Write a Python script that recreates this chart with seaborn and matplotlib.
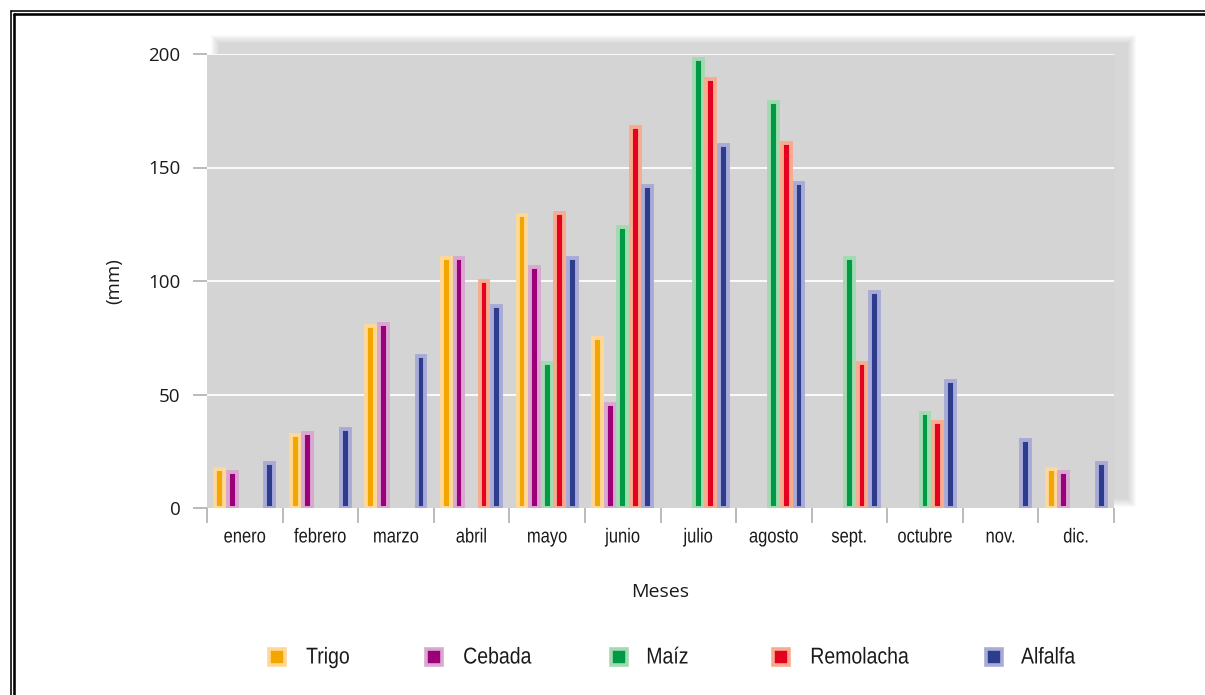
import numpy as np
import pandas as pd
import matplotlib
matplotlib.use("Agg")
import matplotlib.pyplot as plt
from matplotlib.lines import Line2D
from matplotlib.patches import Rectangle
from matplotlib.transforms import Affine2D
from matplotlib import patheffects
import seaborn as sns

# Monthly water needs per crop (mm)
months = ["enero", "febrero", "marzo", "abril", "mayo", "junio",
          "julio", "agosto", "sept.", "octubre", "nov.", "dic."]
crops = ["Trigo", "Cebada", "Maíz", "Remolacha", "Alfalfa"]
nan = np.nan
trigo = [17, 32, 80, 110, 129, 75, nan, nan, nan, nan, nan, 17]
cebada = [16, 33, 81, 110, 106, 46, nan, nan, nan, nan, nan, 16]
maiz = [nan, nan, nan, nan, 64, 124, 198, 179, 110, 42, nan, nan]
remolacha = [nan, nan, nan, 100, 130, 168, 189, 161, 64, 38, nan, nan]
alfalfa = [20, 35, 67, 89, 110, 142, 160, 143, 95, 56, 30, 20]
y_ticks = [0, 50, 100, 150, 200]

face_colors = ["#F4A600", "#9B0079", "#009A44", "#E4001F", "#2E3C8E"]
edge_colors = ["#FFD898", "#D9A8D1", "#A3DAB2", "#F8AB8E", "#A9ABD7"]

series = [trigo, cebada, maiz, remolacha, alfalfa]
rows = []
for crop, vals in zip(crops, series):
    for m, v in zip(months, vals):
        if not np.isnan(v):
            rows.append({"Mes": m, "mm": v, "Cultivo": crop})
df = pd.DataFrame(rows)


class Condensed(patheffects.AbstractPathEffect):
    """Squeeze text horizontally to mimic a condensed typeface."""

    def __init__(self, sx=0.82, anchor="center"):
        super().__init__()
        self.sx = sx
        self.anchor = anchor

    def draw_path(self, renderer, gc, tpath, affine, rgbFace=None):
        bb = tpath.get_extents(affine)
        cx = (bb.x0 + bb.x1) / 2 if self.anchor == "center" else bb.x0
        squeeze = Affine2D().translate(-cx, 0).scale(self.sx, 1).translate(cx, 0)
        renderer.draw_path(gc, tpath, affine + squeeze, rgbFace)


sns.set_style("white", {"axes.facecolor": "#D4D4D4"})
plt.rcParams["font.family"] = ["Open Sans", "DejaVu Sans"]
narrow_family = ["Liberation Sans", "DejaVu Sans"]

W, H = 1205, 695
fig = plt.figure(figsize=(W / 100, H / 100), dpi=100)
fig.patch.set_facecolor("white")

# plot rectangle in pixels
x0, x1, ytop, ybot = 207, 1114, 54, 508
ax = fig.add_axes([x0 / W, 1 - ybot / H, (x1 - x0) / W, (ybot - ytop) / H])

# soft drop shadow behind the plot area (offset up and to the right)
dx, dy = 13, 10
for k in range(9):
    grow = 9 - k
    r = Rectangle(((x0 + dx - grow) / W, (H - ybot + dy - grow) / H),
                  (x1 - x0 + 2 * grow) / W, (ybot - ytop + 2 * grow) / H,
                  transform=fig.transFigure, facecolor="#A0A0A0",
                  edgecolor="none", alpha=0.05, zorder=-2)
    fig.patches.append(r)

sns.barplot(data=df, x="Mes", y="mm", hue="Cultivo", order=months,
            hue_order=crops, palette=face_colors, saturation=1,
            width=0.83, gap=0.3, errorbar=None, ax=ax, legend=False, zorder=3)

for cont, ec in zip(ax.containers, edge_colors):
    for p in cont:
        p.set_edgecolor(ec)
        p.set_linewidth(2.8)

ax.set_xlim(-0.5, len(months) - 0.5)
ax.set_ylim(0, 200)
ax.set_yticks(y_ticks)
ax.grid(False)
for t in y_ticks[1:]:
    ax.axhline(t, color="white", lw=1.3, zorder=1)
for s in ax.spines.values():
    s.set_visible(False)

ax.tick_params(axis="y", length=10, width=1.1, color="#A8A8A8", pad=9,
               labelsize=13.5, labelcolor="#1A1A1A", left=True)
ax.set_xticks(np.arange(len(months)))
ax.set_xticklabels(months, fontfamily=narrow_family, fontsize=14.5, color="#1A1A1A")
for lab in ax.get_xticklabels():
    lab.set_path_effects([Condensed(0.82, "center")])
ax.set_xticks(np.arange(-0.5, len(months)), minor=True)
ax.tick_params(axis="x", which="major", length=0, pad=14, bottom=True)
ax.tick_params(axis="x", which="minor", length=11, width=1.1,
               color="#A8A8A8", bottom=True)

ax.set_ylabel("(mm)", fontsize=13.5, color="#1A1A1A", labelpad=18)
ax.set_xlabel("Meses", fontsize=14, color="#1A1A1A", labelpad=26)

# legend row: square swatch followed by a condensed label
legend_marker_x = [277, 434, 619, 781, 994]
legend_text_x = [306, 463, 646, 810, 1021]
legend_y = 1 - 657 / H
for fc, ec, name, mx, tx in zip(face_colors, edge_colors, crops,
                                legend_marker_x, legend_text_x):
    fig.add_artist(Line2D([mx / W], [legend_y], transform=fig.transFigure,
                          linestyle="none", marker="s", markersize=11.5,
                          markerfacecolor=fc, markeredgecolor=ec,
                          markeredgewidth=2.6))
    fig.text(tx / W, legend_y, name, ha="left", va="center",
             family=narrow_family, fontsize=16.5, color="#1A1A1A",
             path_effects=[Condensed(0.85, "left")])

# double border around the figure
for off, lw in [(10.5, 1.6), (14.2, 2.6)]:
    fig.add_artist(Line2D([off / W, off / W], [0, 1 - off / H],
                          transform=fig.transFigure, color="black", lw=lw * 0.72))
    fig.add_artist(Line2D([off / W, 1], [1 - off / H, 1 - off / H],
                          transform=fig.transFigure, color="black", lw=lw * 0.72))

fig.savefig("out.png", dpi=100)
